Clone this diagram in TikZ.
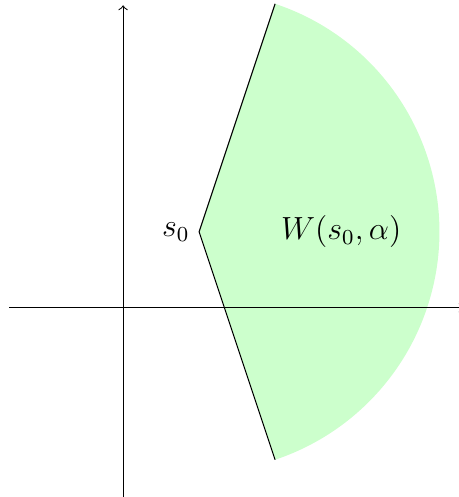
\documentclass[tikz,border=0pt]{standalone}
\begin{document}
\begin{tikzpicture}[x=1cm,y=1cm,
  axis/.style={->},
  wedgefill/.style={fill=green!20, draw=none},
  edge/.style={draw=black}]
\useasboundingbox (-1.62,-2.49) rectangle (4.41,4.05);
\coordinate (s0) at (1,1);
\coordinate (top) at (2,4);
\coordinate (bot) at (2,-2);
\fill[wedgefill] (s0) -- (top) arc[start angle={atan2(3,1)}, end angle={-atan2(3,1)}, radius={sqrt(10)}] -- cycle;
\draw[axis] (-1.5,0) coordinate (xl) -- (4.48,0) coordinate (xr);
\draw[axis] (0,-2.6) coordinate (yb) -- (0,3.98) coordinate (yt);
\draw[edge] (top) -- (s0) -- (bot);
\node[left] (s0lab) at (s0) {\large $s_0$};
\node (wlab) at (2.87,1) {\large $W(s_0,\alpha)$};
\end{tikzpicture}
\end{document}
